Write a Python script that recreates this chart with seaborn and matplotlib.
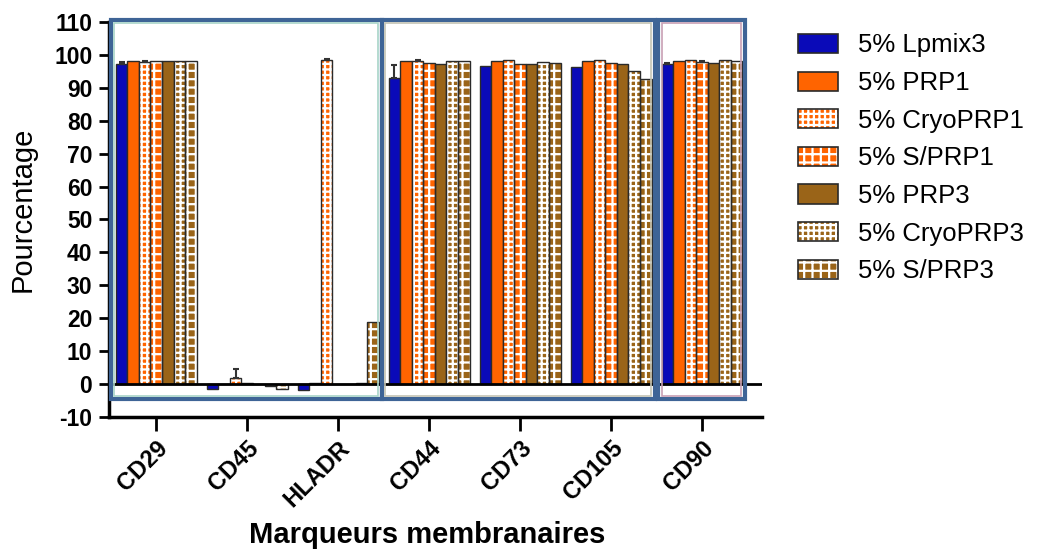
import pandas as pd
import matplotlib
matplotlib.use("Agg")
import matplotlib.pyplot as plt
import seaborn as sns
from matplotlib.patches import Rectangle, Patch

# === DATA ===
markers = ["CD29", "CD45", "HLADR", "CD44", "CD73", "CD105", "CD90"]
conditions = ["5% Lpmix3", "5% PRP1", "5% CryoPRP1", "5% S/PRP1",
              "5% PRP3", "5% CryoPRP3", "5% S/PRP3"]

lpmix3 = [97.3, -1.5, -1.8, 93.0, 96.5, 96.4, 97.2]
prp1 = [98.0, 0.0, 0.3, 98.0, 98.0, 98.0, 98.0]
cryo_prp1 = [97.8, 2.0, 98.5, 98.2, 98.4, 98.3, 98.3]
s_prp1 = [98.0, 0.3, 0.0, 97.6, 97.1, 97.6, 97.7]
prp3 = [98.0, 0.0, 0.0, 97.2, 97.1, 97.1, 97.5]
cryo_prp3 = [98.0, -0.5, 0.3, 98.2, 97.9, 95.0, 98.4]
s_prp3 = [98.0, -1.5, 19.0, 98.0, 97.6, 92.8, 98.0]

err_lpmix3 = [0.5, 0, 0, 4.0, 0, 0, 0.3]
err_cryo_prp1 = [0.3, 2.5, 0.3, 0.3, 0, 0, 0]
err_s_prp1 = [0, 0, 0, 0, 0, 0, 0.4]

colors = ["#0a0ab8", "#ff6400", "#ff6400", "#ff6400",
          "#9a6418", "#9a6418", "#9a6418"]
hatches = [None, None, "+++", "++", None, "+++", "++"]

values = [lpmix3, prp1, cryo_prp1, s_prp1, prp3, cryo_prp3, s_prp3]
errors = [err_lpmix3, [0] * 7, err_cryo_prp1, err_s_prp1, [0] * 7, [0] * 7, [0] * 7]

rows = []
for cond, vals in zip(conditions, values):
    for m, v in zip(markers, vals):
        rows.append({"Marqueur": m, "Condition": cond, "Valeur": v})
df = pd.DataFrame(rows)

# === STYLE ===
sns.set_style("white")
plt.rcParams["font.family"] = ["Liberation Sans", "DejaVu Sans"]
plt.rcParams["hatch.linewidth"] = 1.6
for key in ["text.color", "axes.labelcolor", "xtick.color", "ytick.color"]:
    plt.rcParams[key] = "black"

fig = plt.figure(figsize=(10.64, 5.49), dpi=100)
ax = fig.add_axes([0.1024, 0.2404, 0.6138, 0.7196])

sns.barplot(data=df, x="Marqueur", y="Valeur", hue="Condition",
            order=markers, hue_order=conditions, palette=colors,
            saturation=1, width=0.89, gap=0, edgecolor="#2a2a2a",
            linewidth=1.0, legend=False, ax=ax)

edge = "#2a2a2a"
bar_containers = list(ax.containers)[:len(conditions)]
for i, cont in enumerate(bar_containers):
    for j, bar in enumerate(cont):
        if hatches[i]:
            bar.set_hatch(hatches[i])
            bar.set_edgecolor("white")
            bar.set_linewidth(0)
            ax.add_patch(Rectangle((bar.get_x(), bar.get_y()), bar.get_width(),
                                   bar.get_height(), fill=False, edgecolor=edge,
                                   linewidth=1.0, zorder=bar.get_zorder() + 0.1))
        e = errors[i][j]
        if e > 0:
            xc = bar.get_x() + bar.get_width() / 2
            top = bar.get_y() + bar.get_height()
            ax.errorbar([xc], [top], yerr=[[0], [e]], fmt="none", ecolor="#333333",
                        elinewidth=1.5, capsize=2.5, capthick=1.5, zorder=4)

ax.axhline(0, color="black", linewidth=2, zorder=5)

ax.set_xlim(-0.52, 6.66)
ax.set_ylim(-10, 110)
ax.set_yticks(range(-10, 111, 10))
ax.set_yticklabels([str(t) for t in range(-10, 111, 10)], fontsize=16.5, fontweight="bold")
ax.set_xticks(range(len(markers)))
ax.set_xticklabels(markers, fontsize=17, fontweight="bold", rotation=45,
                   ha="right", rotation_mode="anchor")

for side in ["top", "right"]:
    ax.spines[side].set_visible(False)
for side in ["left", "bottom"]:
    ax.spines[side].set_linewidth(2.5)
    ax.spines[side].set_color("black")
ax.tick_params(axis="y", direction="out", length=7, width=2, pad=5, left=True)
ax.tick_params(axis="x", direction="out", length=10, width=2, pad=4, bottom=True)

ax.set_ylabel("Pourcentage", fontsize=21)
ax.yaxis.set_label_coords(-0.11, 0.527)
ax.set_xlabel("Marqueurs membranaires", fontsize=21, fontweight="bold")
ax.xaxis.set_label_coords(0.487, -0.262)

# framed groups drawn over the plot
frames = [(-0.50, 2.48, "#a8d4c8"), (2.48, 5.48, "#c4c4b4"), (5.52, 6.47, "#c8a0b4")]
for x0, x1, inner in frames:
    ax.add_patch(Rectangle((x0, -4.6), x1 - x0, 115.3, fill=False,
                           edgecolor="#3e6496", linewidth=3, clip_on=False, zorder=6))
    ax.add_patch(Rectangle((x0 + 0.04, -3.6), x1 - x0 - 0.08, 113.4, fill=False,
                           edgecolor=inner, linewidth=1.2, clip_on=False, zorder=6))

# legend
handles = []
for c, h in zip(colors, hatches):
    if h:
        fillp = Patch(facecolor=c, edgecolor="white", hatch=h, linewidth=0)
        outline = Patch(facecolor="none", edgecolor=edge, linewidth=1.2)
        handles.append((fillp, outline))
    else:
        handles.append(Patch(facecolor=c, edgecolor=edge, linewidth=1.2))
fig.legend(handles, conditions, loc="upper left", bbox_to_anchor=(0.75, 0.939),
           frameon=False, fontsize=18.5, handlelength=1.56, handleheight=0.78,
           handletextpad=0.78, labelspacing=0.53, borderaxespad=0, borderpad=0)

fig.savefig("out.png", dpi=100)
